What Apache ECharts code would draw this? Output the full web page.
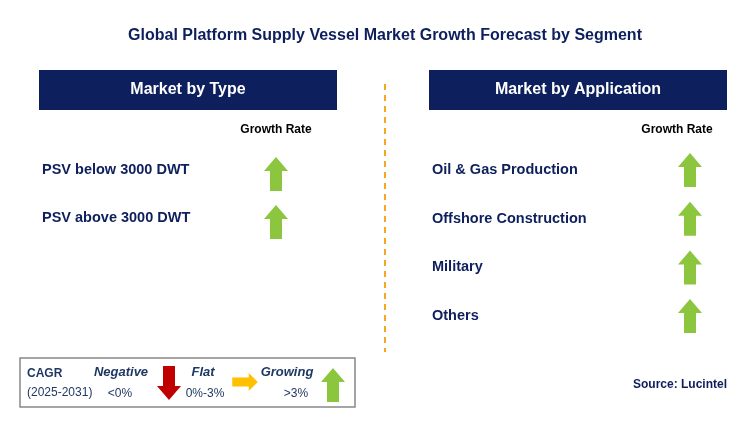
<!DOCTYPE html>
<html><head><meta charset="utf-8">
<script src="https://cdn.jsdelivr.net/npm/echarts@6/dist/echarts.min.js"></script>
<style>html,body{margin:0;padding:0;background:#fff}#c{width:746px;height:421px}</style>
</head><body><div id="c"></div>
<script>
const titleText = 'Global Platform Supply Vessel Market Growth Forecast by Segment';
const typeCategories = ['PSV below 3000 DWT', 'PSV above 3000 DWT'];
const typeTrend = ['up', 'up'];
const appCategories = ['Oil & Gas Production', 'Offshore Construction', 'Military', 'Others'];
const appTrend = ['up', 'up', 'up', 'up'];
const panelTitles = ['Market by Type', 'Market by Application'];

const NAVY = '#0d1f5c', GREEN = '#8cc63f', RED = '#c00000', ORANGE = '#ffc000';
const chart = echarts.init(document.getElementById('c'));
const g = [];
function arrow(cx, cy, dir, color, s) {
  s = s || 1;
  let pts;
  if (dir === 'up') pts = [[0,-17],[12,-3],[6,-3],[6,17],[-6,17],[-6,-3],[-12,-3]];
  else if (dir === 'down') pts = [[0,17],[12,3],[6,3],[6,-17],[-6,-17],[-6,3],[-12,3]];
  else pts = [[17,0],[5,-12],[5,-6],[-17,-6],[-17,6],[5,6],[5,12]];
  g.push({type:'polygon', shape:{points:pts.map(p=>[cx+p[0]*s, cy+p[1]*s])}, style:{fill:color}});
}
g.push({type:'text', x:385, y:36, style:{text:titleText, fill:NAVY, font:'bold 16px Arial', align:'center', verticalAlign:'middle'}});
[[39,panelTitles[0]],[429,panelTitles[1]]].forEach(([x,t])=>{
  g.push({type:'rect', shape:{x:x,y:70,width:298,height:40}, style:{fill:NAVY}});
  g.push({type:'text', x:x+149, y:90, style:{text:t, fill:'#fff', font:'bold 16px Arial', align:'center', verticalAlign:'middle'}});
});
g.push({type:'text', x:276, y:130, style:{text:'Growth Rate', fill:'#000', font:'bold 12px Arial', align:'center', verticalAlign:'middle'}});
g.push({type:'text', x:677, y:130, style:{text:'Growth Rate', fill:'#000', font:'bold 12px Arial', align:'center', verticalAlign:'middle'}});
typeCategories.forEach((c,i)=>{
  const y = 170 + i*48;
  g.push({type:'text', x:42, y:y, style:{text:c, fill:NAVY, font:'bold 14.5px Arial', verticalAlign:'middle'}});
  arrow(276, y+4, typeTrend[i], GREEN);
});
appCategories.forEach((c,i)=>{
  const y = 170 + i*48.7;
  g.push({type:'text', x:432, y:y, style:{text:c, fill:NAVY, font:'bold 14.5px Arial', verticalAlign:'middle'}});
  arrow(690, y, appTrend[i], GREEN);
});
g.push({type:'line', shape:{x1:385,y1:84,x2:385,y2:352}, style:{stroke:'#f5a623', lineWidth:2, lineDash:[6,5]}});
g.push({type:'rect', shape:{x:20,y:358,width:335,height:49}, style:{fill:'#fff', stroke:'#888', lineWidth:1.5}});
g.push({type:'text', x:27, y:374, style:{text:'CAGR', fill:'#1f3864', font:'bold 12px Arial', verticalAlign:'middle'}});
g.push({type:'text', x:27, y:393, style:{text:'(2025-2031)', fill:'#1f3864', font:'12px Arial', verticalAlign:'middle'}});
g.push({type:'text', x:121, y:372, style:{text:'Negative', fill:'#1f3864', font:'italic bold 13px Arial', align:'center', verticalAlign:'middle'}});
g.push({type:'text', x:120, y:394, style:{text:'<0%', fill:'#1f3864', font:'12px Arial', align:'center', verticalAlign:'middle'}});
arrow(169, 383, 'down', RED);
g.push({type:'text', x:203, y:372, style:{text:'Flat', fill:'#1f3864', font:'italic bold 13px Arial', align:'center', verticalAlign:'middle'}});
g.push({type:'text', x:205, y:394, style:{text:'0%-3%', fill:'#1f3864', font:'12px Arial', align:'center', verticalAlign:'middle'}});
arrow(245, 382, 'right', ORANGE, 0.75);
g.push({type:'text', x:287, y:372, style:{text:'Growing', fill:'#1f3864', font:'italic bold 13px Arial', align:'center', verticalAlign:'middle'}});
g.push({type:'text', x:296, y:394, style:{text:'>3%', fill:'#1f3864', font:'12px Arial', align:'center', verticalAlign:'middle'}});
arrow(333, 385, 'up', GREEN);
g.push({type:'text', x:727, y:385, style:{text:'Source: Lucintel', fill:NAVY, font:'bold 12px Arial', align:'right', verticalAlign:'middle'}});
chart.setOption({animation:false, graphic:g});
</script></body></html>
